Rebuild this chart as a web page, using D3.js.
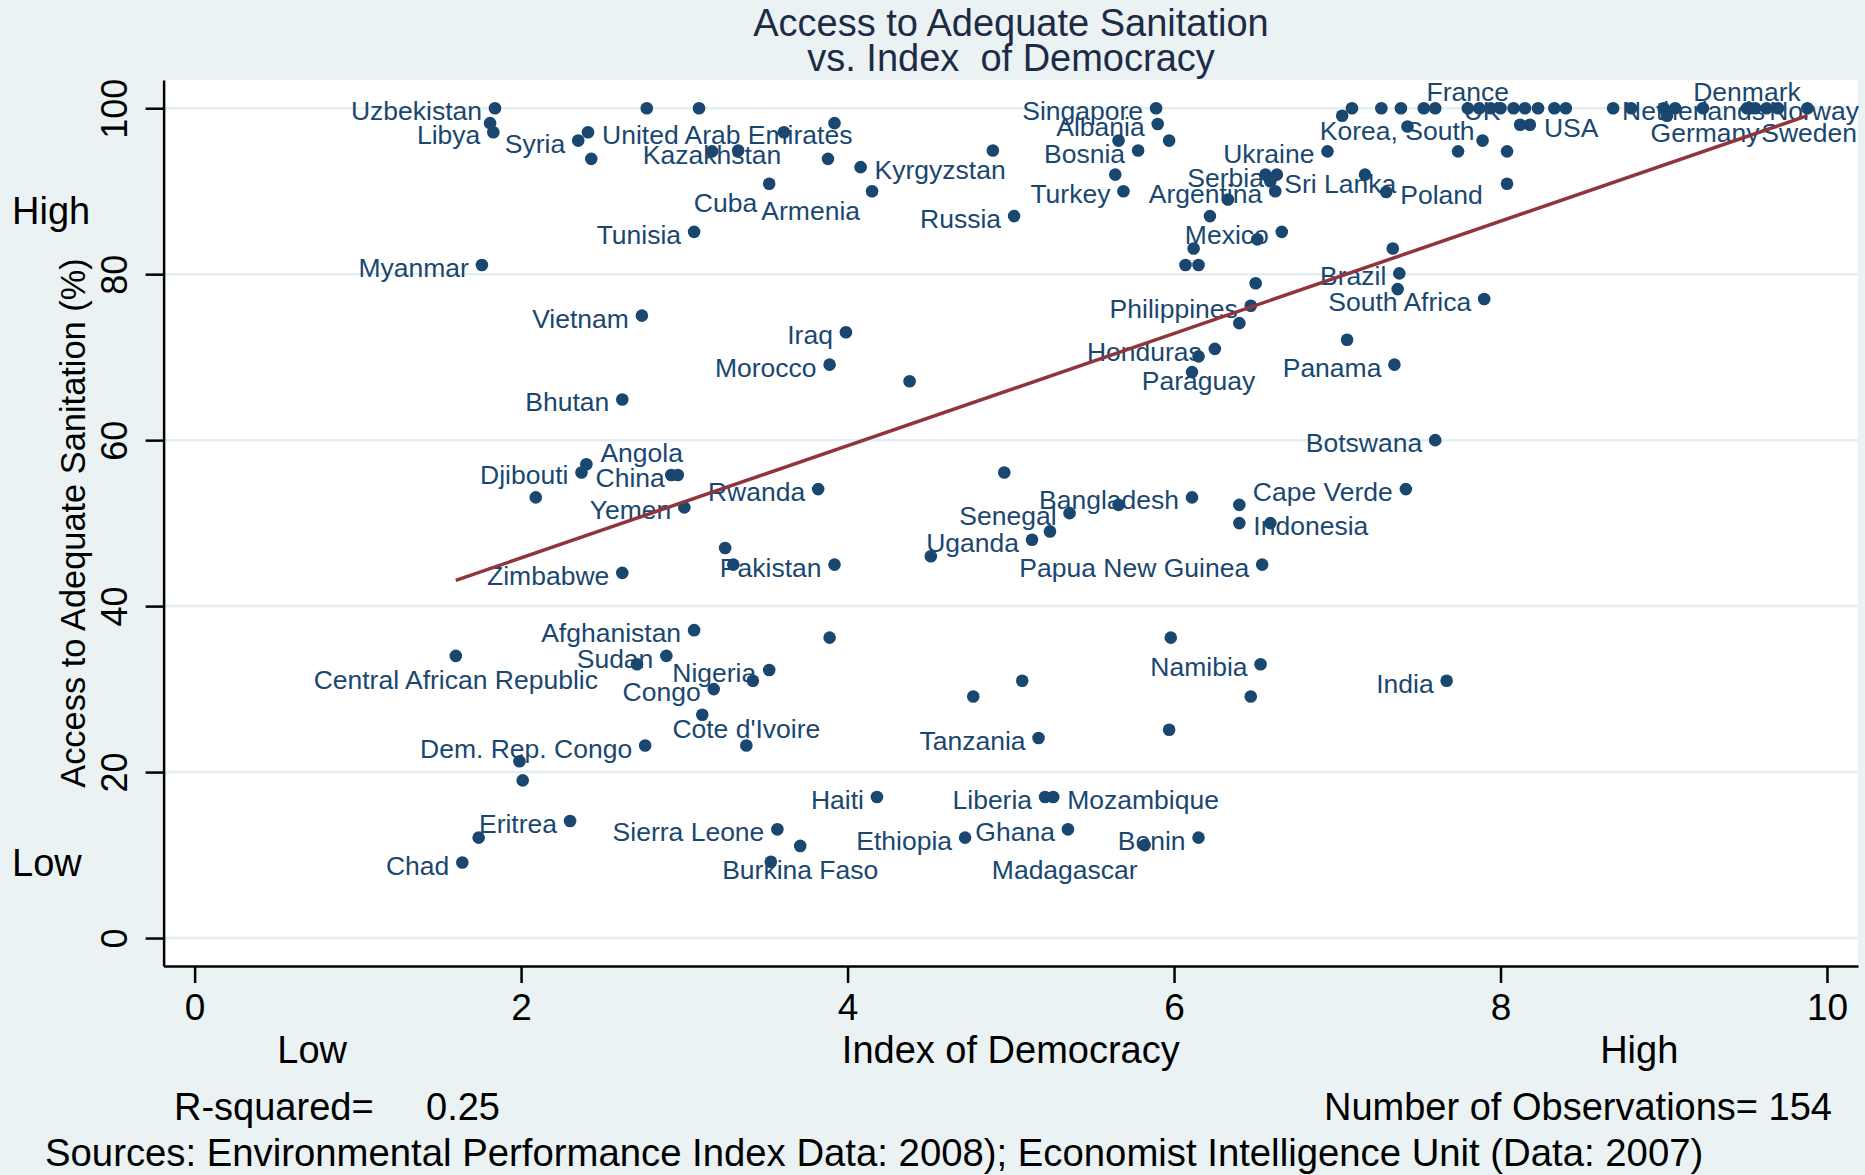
<!DOCTYPE html>
<html>
<head>
<meta charset="utf-8">
<script src="https://cdnjs.cloudflare.com/ajax/libs/d3/7.8.5/d3.min.js"></script>
<style>
  body { margin: 0; background: #eaf2f3; }
  svg { display: block; font-family: "Liberation Sans", Arial, Helvetica, sans-serif; }
</style>
</head>
<body>
<svg id="chart"></svg>
<script>
// Country labels ("" = unlabelled point)
const countries = [
  'Uzbekistan', '', 'Libya', '', '', 'United Arab Emirates', 'Syria', '', 'Kazakhstan', '',
  '', '', '', 'Cuba', 'Kyrgyzstan', 'Armenia', '', 'Russia', 'Tunisia', 'Myanmar',
  'Vietnam', 'Iraq', 'Morocco', '', 'Bhutan', 'Singapore', 'Albania', '', '', 'Bosnia',
  '', 'Turkey', '', '', 'Argentina', '', 'Sri Lanka', 'Serbia', 'Mexico', '',
  '', '', '', '', 'Philippines', '', 'Honduras', 'Paraguay', '', 'Ukraine',
  '', '', '', '', '', '', '', 'France', '', '',
  '', 'UK', '', '', '', '', '', 'USA', 'Korea, South', '',
  '', '', 'Poland', '', '', '', '', '', '', '',
  'Denmark', 'Sweden', 'Norway', 'Germany', 'Netherlands', '', 'Brazil', '', '', 'South Africa',
  '', 'Panama', 'Botswana', 'Cape Verde', 'India', '', 'Bangladesh', '', 'Senegal', '',
  'Uganda', '', 'Papua New Guinea', '', 'Indonesia', '', 'Rwanda', 'Pakistan', '', '',
  'Angola', 'Djibouti', '', '', 'China', 'Yemen', 'Zimbabwe', 'Afghanistan', 'Central African Republic', 'Sudan',
  '', 'Nigeria', '', 'Congo', '', "Cote d'Ivoire", 'Dem. Rep. Congo', '', '', 'Eritrea',
  '', 'Chad', 'Sierra Leone', 'Burkina Faso', '', '', '', '', 'Tanzania', '',
  '', 'Namibia', '', 'Haiti', 'Liberia', 'Mozambique', 'Ethiopia', 'Ghana', 'Benin', 'Madagascar'
];

// Index of Democracy (x)
const democracy = [
  1.84, 1.81, 1.83, 2.77, 3.09, 2.41, 2.35, 2.43, 3.17, 3.33,
  3.61, 3.92, 3.88, 3.52, 4.08, 4.15, 4.89, 5.02, 3.06, 1.76,
  2.74, 3.99, 3.89, 4.38, 2.62, 5.89, 5.90, 5.97, 5.66, 5.78,
  5.64, 5.69, 6.33, 6.22, 6.62, 6.56, 6.59, 6.63, 6.66, 6.51,
  6.12, 6.07, 6.15, 6.50, 6.47, 6.40, 6.25, 6.15, 6.11, 6.94,
  7.09, 7.03, 7.27, 7.39, 7.53, 7.60, 7.43, 7.80, 7.87, 7.94,
  8.00, 8.08, 8.15, 8.23, 8.33, 8.40, 8.12, 8.18, 7.89, 7.74,
  8.04, 8.04, 7.30, 7.17, 8.69, 8.80, 9.00, 9.07, 9.02, 9.24,
  9.51, 9.53, 9.56, 9.63, 9.70, 9.88, 7.38, 7.34, 7.37, 7.90,
  7.06, 7.35, 7.60, 7.42, 7.67, 4.96, 6.11, 5.66, 5.36, 5.24,
  5.13, 4.51, 6.54, 6.40, 6.40, 6.59, 3.82, 3.92, 3.30, 3.25,
  2.40, 2.37, 2.09, 2.92, 2.96, 3.00, 2.62, 3.06, 1.60, 2.89,
  2.71, 3.52, 3.42, 3.18, 3.11, 3.38, 2.76, 1.99, 2.01, 2.30,
  1.74, 1.64, 3.57, 3.71, 3.53, 3.89, 4.77, 5.07, 5.17, 5.97,
  6.47, 6.53, 5.98, 4.18, 5.21, 5.26, 4.72, 5.35, 6.15, 5.82
];

// Access to Adequate Sanitation, % (y)
const sanitation = [
  100.0, 98.2, 97.1, 100.0, 100.0, 97.1, 96.1, 93.9, 94.8, 94.9,
  97.1, 98.2, 93.9, 90.9, 92.9, 90.0, 94.9, 87.0, 85.1, 81.1,
  75.0, 73.0, 69.1, 67.1, 64.9, 100.0, 98.1, 96.1, 96.1, 94.9,
  92.0, 90.0, 89.0, 87.0, 90.0, 92.0, 91.2, 92.0, 85.1, 84.2,
  83.1, 81.1, 81.1, 78.9, 76.2, 74.1, 71.0, 70.1, 68.2, 94.8,
  100.0, 99.1, 100.0, 100.0, 100.0, 100.0, 97.8, 100.0, 100.0, 100.0,
  100.0, 100.0, 100.0, 100.0, 100.0, 100.0, 98.0, 98.0, 96.1, 94.8,
  94.8, 90.9, 89.9, 92.0, 100.0, 100.0, 100.0, 100.0, 99.1, 100.0,
  100.0, 100.0, 100.0, 100.0, 100.0, 100.0, 80.1, 83.1, 78.2, 77.0,
  72.1, 69.1, 60.0, 54.1, 31.0, 56.1, 53.1, 52.2, 51.2, 49.0,
  48.0, 46.0, 45.0, 52.2, 50.0, 50.0, 54.1, 45.0, 45.0, 47.0,
  57.1, 56.1, 53.1, 55.8, 55.8, 51.9, 44.0, 37.1, 34.0, 34.0,
  33.0, 32.3, 31.0, 30.0, 26.9, 23.2, 23.2, 21.3, 19.0, 14.1,
  12.1, 9.1, 13.1, 11.1, 9.2, 36.2, 29.1, 31.0, 24.1, 25.1,
  29.1, 33.0, 36.2, 17.0, 17.0, 17.0, 12.1, 13.1, 12.1, 11.2
];

// Marker-label clock position (Stata style), 9 = left of the marker
const labelClock = [
  9, 9, 9, 9, 9, 3, 9, 9, 0, 9,
  9, 9, 9, 8, 3, 8, 9, 9, 9, 9,
  9, 9, 9, 9, 9, 9, 9, 9, 9, 9,
  9, 9, 9, 9, 9, 9, 3, 9, 9, 9,
  9, 9, 9, 9, 9, 9, 9, 6, 9, 9,
  9, 9, 9, 9, 9, 9, 9, 12, 9, 9,
  9, 9, 9, 9, 9, 9, 9, 3, 10, 9,
  9, 9, 3, 9, 9, 9, 9, 9, 9, 9,
  12, 4, 3, 7, 9, 9, 9, 9, 9, 9,
  9, 9, 9, 9, 9, 9, 9, 9, 9, 9,
  9, 9, 9, 9, 3, 9, 9, 9, 9, 9,
  2, 9, 9, 9, 9, 9, 9, 9, 6, 9,
  9, 9, 9, 9, 9, 12, 9, 9, 9, 9,
  9, 9, 9, 6, 9, 9, 9, 9, 9, 9,
  9, 9, 9, 9, 9, 3, 9, 9, 9, 7
];

// Fitted line end points
const fitDemocracy = [1.60, 9.88];
const fitSanitation = [43.1, 99.1];

const xTicks = [0, 2, 4, 6, 8, 10];
const yTicks = [0, 20, 40, 60, 80, 100];
const xSideLabels = [{ text: 'Low', value: 0.72 }, { text: 'High', value: 8.85 }];
const ySideLabels = [{ text: 'High', value: 86.1 }, { text: 'Low', value: 7.5 }];

const titleLines = ['Access to Adequate Sanitation', 'vs. Index  of Democracy'];
const rSquared = '0.25';
const nObs = 154;
const sourceNote = 'Sources: Environmental Performance Index Data: 2008); Economist Intelligence Unit (Data: 2007)';

class LabelledScatter {
  constructor(_config, data) {
    this.config = {
      parentElement: _config.parentElement,
      containerWidth: _config.width,
      containerHeight: _config.height,
      plot: { left: 163.6, right: 1858, top: 80, bottom: 966 }
    };
    this.data = data;
    this.initVis();
  }

  initVis() {
    let vis = this;
    const p = vis.config.plot;

    vis.svg = d3.select(vis.config.parentElement)
      .attr('width', vis.config.containerWidth)
      .attr('height', vis.config.containerHeight);

    vis.svg.append('rect')
      .attr('width', vis.config.containerWidth)
      .attr('height', vis.config.containerHeight)
      .attr('fill', '#eaf2f3');

    vis.svg.append('rect')
      .attr('x', p.left).attr('y', p.top)
      .attr('width', p.right - p.left).attr('height', p.bottom - p.top)
      .attr('fill', '#ffffff');

    vis.xScale = d3.scaleLinear().domain([-0.19, 10.19]).range([p.left, p.right]);
    vis.yScale = d3.scaleLinear().domain([-3.37, 103.4]).range([p.bottom, p.top]);

    vis.renderVis();
  }

  renderVis() {
    let vis = this;
    const p = vis.config.plot;

    // grid lines
    vis.svg.append('g').selectAll('line')
      .data(yTicks)
      .join('line')
      .attr('x1', p.left).attr('x2', p.right)
      .attr('y1', d => vis.yScale(d)).attr('y2', d => vis.yScale(d))
      .attr('stroke', '#e6eff0')
      .attr('stroke-width', 2.5);

    // axes
    const xAxisG = vis.svg.append('g')
      .attr('transform', `translate(0,${p.bottom})`)
      .call(d3.axisBottom(vis.xScale).tickValues(xTicks).tickSize(17).tickSizeOuter(0).tickPadding(11));
    xAxisG.selectAll('text').attr('font-size', 37).attr('fill', '#000').style('font-family', 'inherit');

    const yAxisG = vis.svg.append('g')
      .attr('transform', `translate(${p.left},0)`)
      .call(d3.axisLeft(vis.yScale).tickValues(yTicks).tickSize(18).tickSizeOuter(0));
    yAxisG.selectAll('text')
      .attr('x', 0).attr('dy', null)
      .attr('y', -(p.left - 127))
      .attr('transform', 'rotate(-90)')
      .attr('text-anchor', 'middle')
      .attr('font-size', 36).attr('fill', '#000').style('font-family', 'inherit');

    vis.svg.selectAll('.domain, .tick line')
      .attr('stroke', '#000')
      .attr('stroke-width', 2.5);

    // points
    vis.svg.append('g').selectAll('circle')
      .data(vis.data)
      .join('circle')
      .attr('cx', d => vis.xScale(d.x))
      .attr('cy', d => vis.yScale(d.y))
      .attr('r', 6.3)
      .attr('fill', '#1a476f');

    // marker labels
    const clockOffsets = {
      0: { anchor: 'middle', dx: 0, dy: 3 },
      2: { anchor: 'start', dx: 14, dy: -12 },
      3: { anchor: 'start', dx: 14, dy: 2.5 },
      4: { anchor: 'start', dx: 11, dy: 24 },
      6: { anchor: 'middle', dx: 0, dy: 24 },
      7: { anchor: 'end', dx: -7, dy: 24 },
      8: { anchor: 'end', dx: -12, dy: 19 },
      9: { anchor: 'end', dx: -13, dy: 2.5 },
      10: { anchor: 'end', dx: -8, dy: -10 },
      12: { anchor: 'middle', dx: 0, dy: -17 }
    };
    vis.svg.append('g').selectAll('text')
      .data(vis.data.filter(d => d.name !== ''))
      .join('text')
      .attr('x', d => vis.xScale(d.x) + clockOffsets[d.pos].dx)
      .attr('y', d => vis.yScale(d.y) + clockOffsets[d.pos].dy)
      .attr('dy', '0.358em')
      .attr('text-anchor', d => clockOffsets[d.pos].anchor)
      .attr('font-size', 26.5)
      .attr('fill', '#1a476f')
      .text(d => d.name);

    // linear fit
    const fit = fitDemocracy.map((x, i) => [x, fitSanitation[i]]);
    vis.svg.append('path')
      .datum(fit)
      .attr('d', d3.line().x(d => vis.xScale(d[0])).y(d => vis.yScale(d[1])))
      .attr('fill', 'none')
      .attr('stroke', '#90353b')
      .attr('stroke-width', 3.5);

    // titles and notes
    vis.svg.append('g').selectAll('text')
      .data(titleLines)
      .join('text')
      .attr('x', 1011)
      .attr('y', (d, i) => 36 + i * 35)
      .attr('text-anchor', 'middle')
      .attr('font-size', 38)
      .attr('fill', '#1e2b47')
      .style('white-space', 'pre')
      .text(d => d);

    vis.svg.append('text')
      .attr('transform', `translate(85,${(p.top + p.bottom) / 2}) rotate(-90)`)
      .attr('text-anchor', 'middle')
      .attr('font-size', 34.4)
      .text('Access to Adequate Sanitation (%)');

    vis.svg.append('g').selectAll('text')
      .data(ySideLabels)
      .join('text')
      .attr('x', 12)
      .attr('y', d => vis.yScale(d.value))
      .attr('font-size', 38)
      .text(d => d.text);

    vis.svg.append('text')
      .attr('x', (p.left + p.right) / 2)
      .attr('y', 1063)
      .attr('text-anchor', 'middle')
      .attr('font-size', 38)
      .text('Index of Democracy');

    vis.svg.append('g').selectAll('text')
      .data(xSideLabels)
      .join('text')
      .attr('x', d => vis.xScale(d.value))
      .attr('y', 1063)
      .attr('text-anchor', 'middle')
      .attr('font-size', 38)
      .text(d => d.text);

    vis.svg.append('text').attr('x', 174).attr('y', 1120).attr('font-size', 38).text('R-squared=');
    vis.svg.append('text').attr('x', 426).attr('y', 1120).attr('font-size', 38).text(rSquared);
    vis.svg.append('text').attr('x', 1832).attr('y', 1120).attr('text-anchor', 'end')
      .attr('font-size', 38).text(`Number of Observations= ${nObs}`);
    vis.svg.append('text').attr('x', 45).attr('y', 1166).attr('font-size', 38.3).text(sourceNote);
  }
}

const data = countries.map((name, i) => ({
  name: name,
  x: democracy[i],
  y: sanitation[i],
  pos: labelClock[i]
}));

new LabelledScatter({ parentElement: '#chart', width: 1865, height: 1175 }, data);
</script>
</body>
</html>
